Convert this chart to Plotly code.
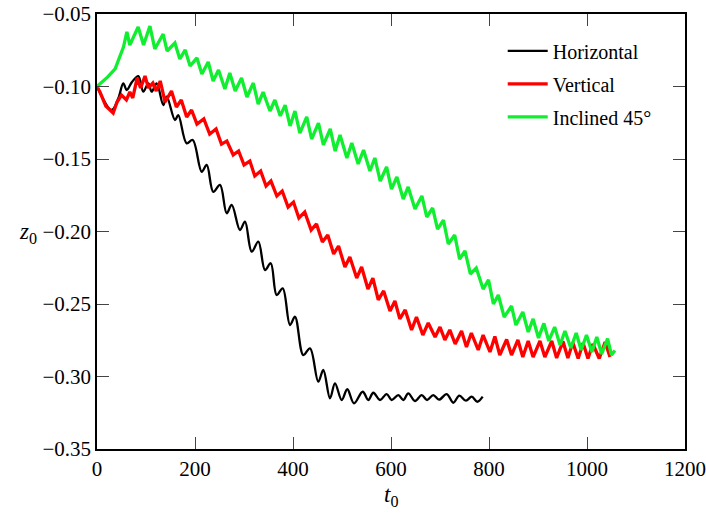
import plotly.graph_objects as go

# Horizontal
h_t = [0, 30, 43.5, 53.7, 60.6, 71.4, 84.3, 94.5, 104.7, 111.6, 121.8, 135.3, 142.2, 159.2, 165.9, 183, 195.3,
       213.7, 223.9, 237.3, 251, 264.7, 274.9, 291.8, 302, 315.7, 329.2, 342.9, 354.5, 366.7, 379, 393.9, 404.1,
       421, 434.7, 451.6, 461.8, 475.5, 485.7, 499.4, 510.8, 524.5, 542.2, 553.7, 563.9, 577.6, 591.2, 601.4,
       614.9, 625.1, 635.3, 649, 662.7, 673.5, 686.3, 698, 713.7, 727.1, 739.4, 753, 764.7, 776.1, 787.1]
h_z = [-0.1, -0.1162, -0.1081, -0.0978, -0.1024, -0.0969, -0.0928, -0.1036, -0.0978, -0.1036, -0.0978, -0.1128,
       -0.1070, -0.1231, -0.1197, -0.1392, -0.1369, -0.1588, -0.1541, -0.1726, -0.1679, -0.1874, -0.1817, -0.1990,
       -0.1932, -0.2139, -0.2070, -0.2266, -0.2219, -0.2438, -0.2392, -0.2645, -0.2588, -0.2852, -0.2806, -0.3036,
       -0.2955, -0.3150, -0.3047, -0.3162, -0.3088, -0.3185, -0.3105, -0.3162, -0.3112, -0.3162, -0.3121, -0.3162,
       -0.3128, -0.3162, -0.3116, -0.3169, -0.3128, -0.3162, -0.3128, -0.3160, -0.3121, -0.3181, -0.3132, -0.3167,
       -0.3139, -0.3174, -0.3139]

# Vertical
v_t = [0, 6, 18, 33, 41, 50, 60, 67, 73, 82, 89, 98, 105, 114, 121, 129, 139, 152, 162, 172, 183, 193, 204, 218,
       230, 243, 254, 265, 278, 289, 300, 312, 322, 334, 345, 355, 367, 378, 390, 401, 412, 424, 437, 448, 460, 471,
       483, 493, 506, 516, 530, 540, 553, 563, 574, 585, 598, 608, 618, 629, 642, 652, 665, 676, 690, 700, 710, 720,
       731, 744, 754, 764, 778, 788, 802, 812, 822, 836, 846, 859, 869, 880, 890, 904, 914, 928, 938, 951, 961, 971,
       982, 992, 1002, 1012, 1025, 1037, 1047]
v_z = [-0.1000, -0.1038, -0.1134, -0.1183, -0.1107, -0.1059, -0.1093, -0.1038, -0.1079, -0.0941, -0.1010, -0.0928,
       -0.1010, -0.0976, -0.1031, -0.0962, -0.1107, -0.1031, -0.1141, -0.1093, -0.1210, -0.1162, -0.1259, -0.1224,
       -0.1328, -0.1293, -0.1397, -0.1376, -0.1472, -0.1445, -0.1541, -0.1514, -0.1617, -0.1583, -0.1686, -0.1652,
       -0.1755, -0.1721, -0.1831, -0.1797, -0.1907, -0.1866, -0.1990, -0.1948, -0.2072, -0.2024, -0.2155, -0.2100,
       -0.2245, -0.2176, -0.2321, -0.2245, -0.2397, -0.2321, -0.2472, -0.2410, -0.2548, -0.2479, -0.2603, -0.2541,
       -0.2679, -0.2590, -0.2714, -0.2631, -0.2728, -0.2659, -0.2748, -0.2679, -0.2776, -0.2686, -0.2797, -0.2700,
       -0.2817, -0.2714, -0.2831, -0.2724, -0.2852, -0.2745, -0.2852, -0.2748, -0.2866, -0.2755, -0.2866, -0.2755,
       -0.2866, -0.2755, -0.2872, -0.2759, -0.2872, -0.2766, -0.2876, -0.2769, -0.2876, -0.2776, -0.2876, -0.2762,
       -0.2866]

# Inclined 45°
g_t = [0, 6, 22, 37, 47, 54, 61, 67, 84, 95, 108, 118, 135, 143, 159, 169, 180, 190, 204, 214, 227, 237, 248, 261,
       271, 282, 295, 306, 319, 329, 339, 353, 363, 374, 384, 394, 404, 414, 428, 438, 452, 462, 476, 486, 496, 510,
       520, 533, 544, 557, 567, 578, 591, 601, 612, 625, 635, 649, 663, 673, 685, 695, 707, 717, 730, 740, 751, 762,
       774, 788, 799, 809, 819, 831, 846, 855, 869, 880, 890, 901, 912, 922, 934, 945, 955, 967, 978, 988, 999, 1010,
       1020, 1030, 1042, 1050, 1057]
g_z = [-0.1000, -0.0983, -0.0934, -0.0879, -0.0797, -0.0728, -0.0624, -0.0714, -0.0590, -0.0714, -0.0583, -0.0741,
       -0.0638, -0.0755, -0.0700, -0.0810, -0.0748, -0.0859, -0.0803, -0.0914, -0.0831, -0.0962, -0.0886, -0.1017,
       -0.0907, -0.1031, -0.0941, -0.1072, -0.0976, -0.1121, -0.1038, -0.1169, -0.1093, -0.1203, -0.1128, -0.1272,
       -0.1169, -0.1321, -0.1210, -0.1362, -0.1252, -0.1403, -0.1293, -0.1445, -0.1334, -0.1493, -0.1390, -0.1534,
       -0.1438, -0.1583, -0.1493, -0.1652, -0.1555, -0.1707, -0.1624, -0.1776, -0.1693, -0.1845, -0.1755, -0.1900,
       -0.1838, -0.1983, -0.1921, -0.2086, -0.2024, -0.2190, -0.2134, -0.2293, -0.2252, -0.2397, -0.2334, -0.2500,
       -0.2438, -0.2590, -0.2514, -0.2645, -0.2555, -0.2693, -0.2603, -0.2734, -0.2634, -0.2755, -0.2659, -0.2783,
       -0.2686, -0.2803, -0.2700, -0.2817, -0.2714, -0.2831, -0.2728, -0.2845, -0.2738, -0.2852, -0.2821]

x_ticks = [0, 200, 400, 600, 800, 1000, 1200]
y_ticks = [-0.35, -0.30, -0.25, -0.20, -0.15, -0.10, -0.05]
y_labels = ["\u22120.35", "\u22120.30", "\u22120.25", "\u22120.20", "\u22120.15", "\u22120.10", "\u22120.05"]

series = [
    ("Horizontal", h_t, h_z, "#000000", 2.3, "spline"),
    ("Vertical", v_t, v_z, "#ff0000", 3.3, "linear"),
    ("Inclined 45\u00b0", g_t, g_z, "#10ee30", 3.3, "linear"),
]

fig = go.Figure()
for name, t, z, color, w, shp in series:
    fig.add_trace(go.Scatter(x=t, y=z, mode="lines", name=name, legendgroup=name,
                             line=dict(color=color, width=w, shape=shp)))

FONT = "Liberation Serif"
fig.update_layout(
    width=706, height=515,
    margin=dict(l=97, r=21, t=14, b=66, autoexpand=False),
    plot_bgcolor="white", paper_bgcolor="white",
    font=dict(family=FONT, size=21, color="black"),
    showlegend=True,
    legend=dict(x=0.69, y=0.96, xanchor="left", yanchor="top", font=dict(family=FONT, size=20),
                tracegroupgap=4, bgcolor="rgba(0,0,0,0)", itemwidth=40),
    annotations=[
        dict(text="<i>z</i><sub>0</sub>", xref="paper", yref="paper", x=-0.117, y=0.497,
             showarrow=False, font=dict(family=FONT, size=23), xanchor="center", yanchor="middle"),
        dict(text="<i>t</i><sub>0</sub>", xref="paper", yref="paper", x=0.5, y=-0.108,
             showarrow=False, font=dict(family=FONT, size=23), xanchor="center", yanchor="middle"),
    ],
)
fig.update_xaxes(range=[0, 1200], tickvals=x_ticks, ticks="inside", ticklen=12, tickwidth=1, tickcolor="#444",
                 mirror="ticks", showline=True, linecolor="black", linewidth=1.5, showgrid=False, zeroline=False,
                 automargin=False)
fig.update_yaxes(range=[-0.35, -0.05], tickvals=y_ticks, ticktext=y_labels, ticks="inside", ticklen=12,
                 tickwidth=1, tickcolor="#444", mirror="ticks", showline=True, linecolor="black", linewidth=1.5,
                 showgrid=False, zeroline=False, automargin=False)

fig.write_html("out.html", config={"displayModeBar": False},
               post_script="document.body.style.margin='0';document.body.style.overflow='hidden';")
